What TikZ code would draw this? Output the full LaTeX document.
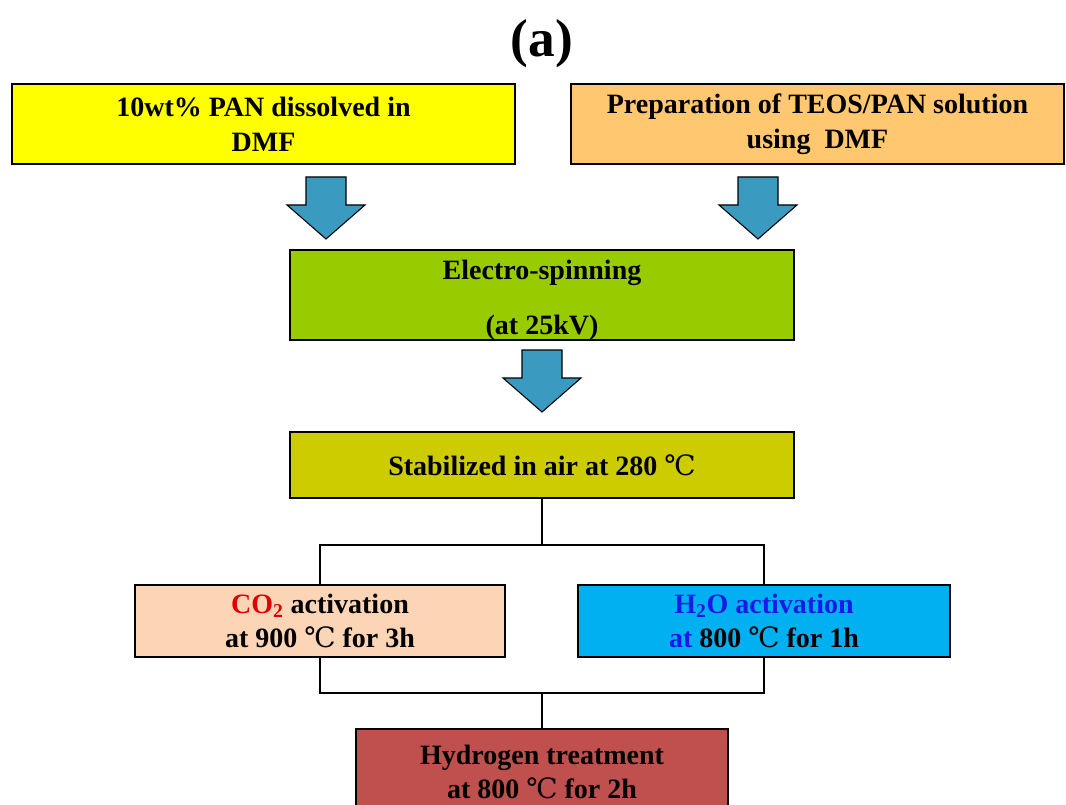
\documentclass[tikz,border=0pt]{standalone}
\usepackage{fontspec}
\setmainfont{Liberation Serif}
\newfontfamily\degfont{DejaVu Serif}
\definecolor{cyellow}{HTML}{FFFF00}
\definecolor{corange}{HTML}{FFC870}
\definecolor{cgreen}{HTML}{99CC00}
\definecolor{colive}{HTML}{CCCC00}
\definecolor{cpeach}{HTML}{FBD5B5}
\definecolor{cblue}{HTML}{00B0F0}
\definecolor{cred}{HTML}{C0504D}
\definecolor{carrow}{HTML}{3A9AC0}
\definecolor{tred}{HTML}{E00000}
\definecolor{tblue}{HTML}{1A1AE6}
\newcommand{\degC}{{\degfont\mdseries ℃}}
\tikzset{
  procbox/.style={draw=black, line width=1.5pt, align=center, inner sep=0pt,
    font=\bfseries\fontsize{21}{26}\selectfont},
  conn/.style={draw=black, line width=1.5pt},
  blockarr/.pic={
    \fill[carrow, draw=black, line width=0.8pt, line join=miter]
      (-20,0) -- (20,0) -- (20,28) -- (39,28) -- (0,62) -- (-39,28) -- (-20,28) -- cycle;
  }
}
\begin{document}
\begin{tikzpicture}[x=0.75pt,y=-0.75pt]
\useasboundingbox (0,0) rectangle (1066,805);
\fill[white] (0,0) rectangle (1066,805);

\node[font=\bfseries\fontsize{40}{44}\selectfont] (title) at (542,44) {(a)};

\node[procbox, fill=cyellow, minimum width=503*0.75pt, minimum height=80*0.75pt] (pan) at (263.5,124)
  {10wt\% PAN dissolved in\\DMF};
\node[procbox, fill=corange, minimum width=493*0.75pt, minimum height=80*0.75pt] (teos) at (817.5,124)
  {Preparation of TEOS/PAN solution\\using\ \ DMF};
\node[procbox, fill=cgreen, minimum width=504*0.75pt, minimum height=90*0.75pt] (elec) at (542,295)
  {};
\node[font=\bfseries\fontsize{21}{26}\selectfont] (elec1) at (542,273) {Electro-spinning};
\node[font=\bfseries\fontsize{21}{26}\selectfont] (elec2) at (542,328) {(at 25kV)};
\node[procbox, fill=colive, minimum width=504*0.75pt, minimum height=66*0.75pt] (stab) at (542,465)
  {Stabilized in air at 280 \degC};
\node[procbox, fill=cpeach, minimum width=370*0.75pt, minimum height=72*0.75pt] (co2) at (320,621)
  {\textcolor{tred}{CO\textsubscript{2}} activation\\at 900 \degC{} for 3h};
\node[procbox, fill=cblue, minimum width=372*0.75pt, minimum height=72*0.75pt] (h2o) at (764,621)
  {\textcolor{tblue}{H\textsubscript{2}O activation}\\\textcolor{tblue}{at} 800 \degC{} for 1h};
\node[procbox, fill=cred, minimum width=372*0.75pt, minimum height=86*0.75pt] (hyd) at (542,772)
  {Hydrogen treatment\\at 800 \degC{} for 2h};

\pic at (326,177) {blockarr};
\pic at (758,177) {blockarr};
\pic at (542,350) {blockarr};

\coordinate (split) at (542,545);
\coordinate (join) at (542,693);
\draw[conn] (stab.south) -- (split);
\draw[conn] (co2.north) |- (split) -| (h2o.north);
\draw[conn] (co2.south) |- (join) -| (h2o.south);
\draw[conn] (join) -- (hyd.north);
\end{tikzpicture}
\end{document}
